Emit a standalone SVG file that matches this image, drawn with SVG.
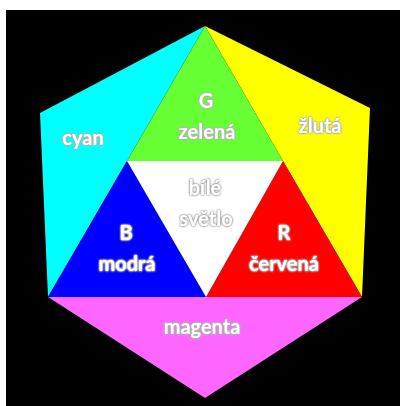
<svg xmlns="http://www.w3.org/2000/svg" width="400" height="406" viewBox="0 0 400 406">
<defs>
<filter id="glow" x="-20%" y="-30%" width="140%" height="160%">
<feGaussianBlur in="SourceAlpha" stdDeviation="1.3" result="b"/>
<feColorMatrix in="b" type="matrix" values="0 0 0 0 0.45  0 0 0 0 0.45  0 0 0 0 0.45  0 0 0 2.6 0" result="g"/>
<feMerge><feMergeNode in="g"/><feMergeNode in="SourceGraphic"/></feMerge>
</filter>
</defs>
<style>
.lbl{font-family:Lato,"Open Sans","Liberation Sans",sans-serif;font-weight:bold;font-size:20px;fill:#fff;text-anchor:middle;filter:url(#glow)}
</style>
<rect x="0" y="0" width="400" height="406" fill="#fff"/>
<rect x="6" y="10" width="394" height="396" fill="#000"/>
<g id="connectors"/>
<g id="cyan"><polygon points="205,26 40,113 48,297 127,161" fill="#00ffff"/><text class="lbl" x="83" y="145">cyan</text></g>
<g id="yellow"><polygon points="205,26 370,108 362,297 283,161" fill="#ffff00"/><text class="lbl" x="320" y="133">žlutá</text></g>
<g id="green"><polygon points="205,26 283,161 127,161" fill="#66ff33"/><text class="lbl" x="206" y="108">G</text><text class="lbl" x="207" y="139">zelená</text></g>
<g id="blue"><polygon points="127,161 206,297 48,297" fill="#0000ff"/><text class="lbl" x="126" y="240">B</text><text class="lbl" x="127" y="271">modrá</text></g>
<g id="red"><polygon points="283,161 362,297 206,297" fill="#ff0000"/><text class="lbl" x="284" y="240">R</text><text class="lbl" x="284" y="271">červená</text></g>
<g id="white"><polygon points="127,161 283,161 206,297" fill="#ffffff"/><text class="lbl" x="205" y="195">bílé</text><text class="lbl" x="206" y="226">světlo</text></g>
<g id="magenta"><polygon points="48,297 362,297 205,398" fill="#ff66ff"/><text class="lbl" x="202" y="334">magenta</text></g>
</svg>
